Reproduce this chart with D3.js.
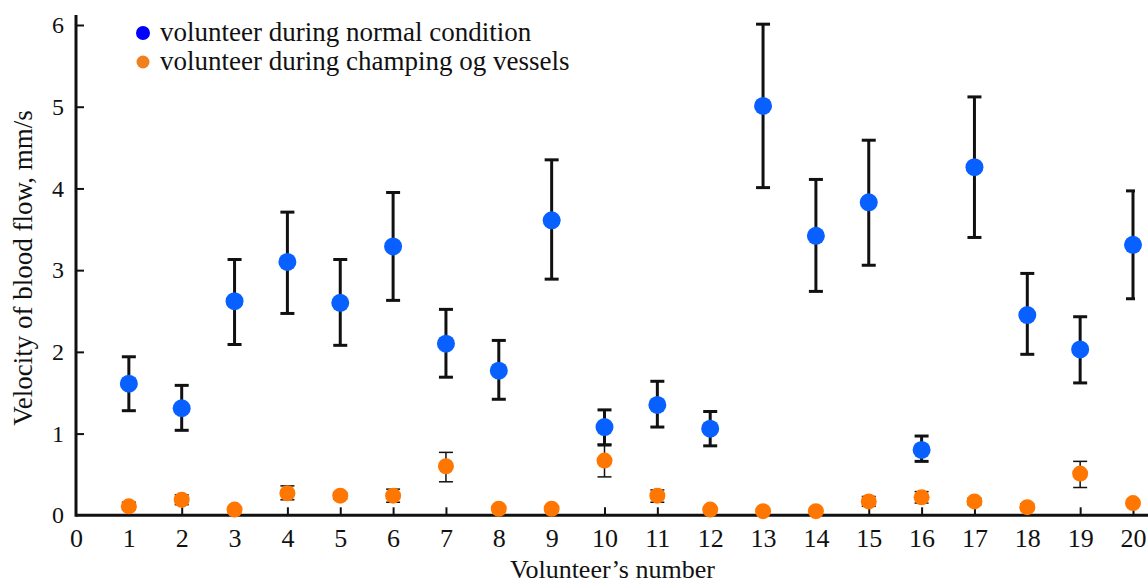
<!DOCTYPE html>
<html>
<head>
<meta charset="utf-8">
<script src="https://cdn.jsdelivr.net/npm/d3@7"></script>
<style>
	body { margin: 0; background: #fff; }
	svg text { font-family: "Liberation Serif", "Times New Roman", serif; fill: #111; }
</style>
</head>
<body>
<div id="chart"></div>
<script>
	// volunteer ids
	var volunteers = [1, 2, 3, 4, 5, 6, 7, 8, 9, 10, 11, 12, 13, 14, 15, 16, 17, 18, 19, 20];

	// normal condition: mean, lower and upper bar ends (mm/s)
	var normalMean = [1.61, 1.31, 2.62, 3.10, 2.60, 3.29, 2.10, 1.77, 3.61, 1.08, 1.35, 1.06, 5.01, 3.42, 3.83, 0.80, 4.26, 2.45, 2.03, 3.31];
	var normalLow = [1.28, 1.04, 2.09, 2.47, 2.08, 2.63, 1.69, 1.42, 2.89, 0.86, 1.08, 0.85, 4.01, 2.74, 3.06, 0.66, 3.40, 1.97, 1.62, 2.65];
	var normalHigh = [1.94, 1.59, 3.13, 3.71, 3.13, 3.95, 2.52, 2.14, 4.35, 1.29, 1.64, 1.27, 6.01, 4.11, 4.59, 0.97, 5.12, 2.96, 2.43, 3.97];

	// clamping of vessels
	var clampMean = [0.11, 0.19, 0.07, 0.27, 0.24, 0.24, 0.60, 0.08, 0.08, 0.67, 0.24, 0.07, 0.05, 0.05, 0.17, 0.22, 0.17, 0.10, 0.51, 0.15];
	var clampLow = [0.07, 0.13, 0.05, 0.19, 0.20, 0.16, 0.41, 0.06, 0.06, 0.47, 0.16, 0.05, 0.03, 0.03, 0.11, 0.15, 0.13, 0.06, 0.34, 0.12];
	var clampHigh = [0.16, 0.25, 0.09, 0.36, 0.28, 0.32, 0.77, 0.10, 0.10, 0.87, 0.31, 0.09, 0.07, 0.07, 0.23, 0.29, 0.21, 0.14, 0.66, 0.18];

	var xTicks = d3.range(0, 21);
	var yTicks = [0, 1, 2, 3, 4, 5, 6];
	var legendLabels = ['volunteer during normal condition', 'volunteer during champing og vessels'];

	var width = 1148, height = 583;
	var margin = {top: 25, right: 15, bottom: 68, left: 76};

	var svg = d3.select('#chart')
		.append('svg')
		.attr('width', width)
		.attr('height', height);

	var x = d3.scaleLinear()
		.domain([0, 20])
		.range([margin.left, width - margin.right]);
	var y = d3.scaleLinear()
		.domain([0, 6])
		.range([height - margin.bottom + 0.3, margin.top]);

	svg.append('defs').append('clipPath')
		.attr('id', 'plotclip')
		.append('rect')
		.attr('x', 0).attr('y', 0)
		.attr('width', 1135).attr('height', height);

	// x axis
	var xAxis = svg.append('g')
		.attr('transform', 'translate(0,' + y(0) + ')')
		.call(d3.axisBottom(x).tickValues(xTicks).tickFormat(d3.format('d'))
			.tickSizeInner(-8).tickSizeOuter(0).tickPadding(12));
	xAxis.select('.domain').remove();
	xAxis.selectAll('.tick line').attr('stroke', '#111').attr('stroke-width', 2);
	xAxis.selectAll('.tick text').attr('font-size', 26).attr('dy', '0.75em')
		.style('font-family', '"Liberation Serif", serif').attr('fill', '#111');
	xAxis.selectAll('.tick').filter(function (d) { return d === 0; }).select('line').remove();

	// y axis
	var yAxis = svg.append('g')
		.attr('transform', 'translate(' + margin.left + ',0)')
		.call(d3.axisLeft(y).tickValues(yTicks).tickFormat(d3.format('d'))
			.tickSizeInner(-8).tickSizeOuter(0).tickPadding(12));
	yAxis.select('.domain').remove();
	yAxis.selectAll('.tick line').attr('stroke', '#111').attr('stroke-width', 2);
	yAxis.selectAll('.tick text').attr('font-size', 24)
		.style('font-family', '"Liberation Serif", serif').attr('fill', '#111');
	yAxis.selectAll('.tick').filter(function (d) { return d === 0; }).select('line').remove();

	svg.append('line')
		.attr('x1', margin.left).attr('x2', width)
		.attr('y1', y(0)).attr('y2', y(0))
		.attr('stroke', '#111').attr('stroke-width', 3);
	svg.append('line')
		.attr('x1', margin.left).attr('x2', margin.left)
		.attr('y1', 15).attr('y2', y(0) + 1.5)
		.attr('stroke', '#111').attr('stroke-width', 3);

	// axis titles
	svg.append('text')
		.attr('x', x(10.15))
		.attr('y', 578)
		.attr('text-anchor', 'middle')
		.attr('font-size', 26)
		.text('Volunteer\u2019s number');
	svg.append('text')
		.attr('transform', 'translate(32,268) rotate(-90)')
		.attr('text-anchor', 'middle')
		.attr('font-size', 27)
		.text('Velocity of blood flow, mm/s');

	function errorBars(means, lows, highs, opts) {
		var g = svg.append('g').attr('clip-path', 'url(#plotclip)');
		var rows = volunteers.map(function (v, i) {
			return {v: v, m: means[i], lo: lows[i], hi: highs[i]};
		});
		var bars = g.selectAll('g.bar').data(rows).enter().append('g').attr('class', 'bar');
		bars.append('line')
			.attr('x1', function (d) { return x(d.v); })
			.attr('x2', function (d) { return x(d.v); })
			.attr('y1', function (d) { return y(d.lo); })
			.attr('y2', function (d) { return y(d.hi); })
			.attr('stroke', '#111').attr('stroke-width', opts.sw);
		['lo', 'hi'].forEach(function (k) {
			bars.append('line')
				.attr('x1', function (d) { return x(d.v) - opts.cap; })
				.attr('x2', function (d) { return x(d.v) + opts.cap; })
				.attr('y1', function (d) { return y(d[k]); })
				.attr('y2', function (d) { return y(d[k]); })
				.attr('stroke', '#111').attr('stroke-width', opts.sw);
		});
		svg.append('g').selectAll('circle').data(rows).enter().append('circle')
			.attr('cx', function (d) { return x(d.v); })
			.attr('cy', function (d) { return y(d.m); })
			.attr('r', opts.r)
			.attr('fill', opts.color);
	}

	errorBars(clampMean, clampLow, clampHigh, {sw: 1.5, cap: 7, r: 8, color: '#ff7700'});
	errorBars(normalMean, normalLow, normalHigh, {sw: 3, cap: 7, r: 9, color: '#0760ff'});

	// legend
	var legendColors = ['#0000ff', '#f07f1e'];
	var legend = svg.append('g');
	legendLabels.forEach(function (lab, i) {
		legend.append('circle')
			.attr('cx', 143).attr('cy', 33 + i * 29)
			.attr('r', i === 0 ? 7 : 6.5)
			.attr('fill', legendColors[i]);
		legend.append('text')
			.attr('x', 160).attr('y', 41 + i * 29)
			.attr('font-size', 27)
			.text(lab);
	});
</script>
</body>
</html>
